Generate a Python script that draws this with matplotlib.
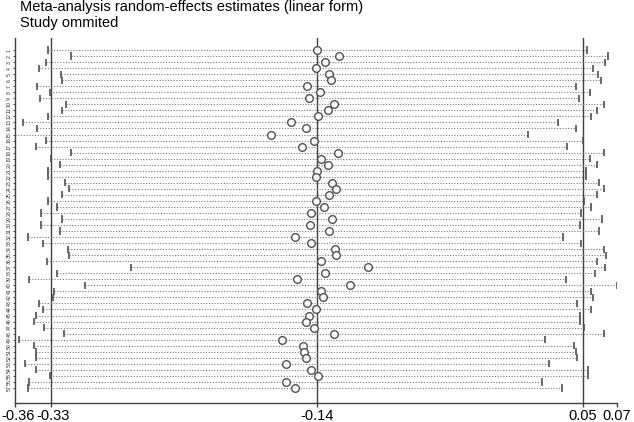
import matplotlib.pyplot as plt
import matplotlib.transforms as mtransforms
import numpy as np

# Study omitted: 1..57
studies = np.arange(1, 58)

estimate = [
    -0.141, -0.125, -0.135, -0.142, -0.132, -0.131, -0.148, -0.139, -0.147, -0.129,
    -0.133, -0.140, -0.160, -0.149, -0.174, -0.143, -0.152, -0.126, -0.138, -0.133,
    -0.141, -0.142, -0.130, -0.127, -0.132, -0.142, -0.136, -0.145, -0.130, -0.146,
    -0.132, -0.157, -0.145, -0.128, -0.127, -0.138, -0.104, -0.135, -0.155, -0.117,
    -0.138, -0.137, -0.148, -0.142, -0.147, -0.149, -0.143, -0.129, -0.166, -0.151,
    -0.150, -0.149, -0.163, -0.145, -0.140, -0.163, -0.157,
]
lower = [
    -0.334, -0.318, -0.336, -0.341, -0.325, -0.324, -0.342, -0.333, -0.340, -0.321,
    -0.324, -0.334, -0.352, -0.342, -0.358, -0.336, -0.343, -0.318, -0.332, -0.326,
    -0.334, -0.334, -0.322, -0.319, -0.324, -0.334, -0.328, -0.339, -0.324, -0.339,
    -0.326, -0.349, -0.338, -0.320, -0.319, -0.335, -0.275, -0.328, -0.348, -0.308,
    -0.330, -0.331, -0.341, -0.338, -0.343, -0.344, -0.337, -0.323, -0.355, -0.344,
    -0.343, -0.343, -0.351, -0.343, -0.333, -0.348, -0.349,
]
upper = [
    0.053, 0.068, 0.066, 0.057, 0.061, 0.063, 0.045, 0.055, 0.047, 0.065,
    0.060, 0.056, 0.032, 0.045, 0.011, 0.050, 0.039, 0.065, 0.055, 0.060,
    0.052, 0.052, 0.062, 0.065, 0.060, 0.051, 0.056, 0.049, 0.064, 0.048,
    0.062, 0.036, 0.049, 0.065, 0.067, 0.060, 0.066, 0.059, 0.038, 0.0746,
    0.056, 0.057, 0.046, 0.056, 0.048, 0.048, 0.051, 0.065, 0.023, 0.044,
    0.045, 0.046, 0.026, 0.054, 0.054, 0.021, 0.035,
]

# overall random-effects estimate and its CI
overall_est = -0.141
overall_lo = -0.332
overall_hi = 0.050

plt.rcParams["font.family"] = ["Liberation Sans", "DejaVu Sans"]

fig = plt.figure(figsize=(6.34, 4.22), dpi=100)
ax = fig.add_axes([15 / 634, 1 - 403 / 422, (617 - 15) / 634, (403 - 38) / 422])

gray = "#505050"
ax.hlines(studies, lower, upper, colors="#7a7a7a", linestyles=(0, (1, 1.5)), lw=0.8)
ax.vlines(lower, studies - 0.6, studies + 0.6, colors=gray, lw=1.2)
ax.vlines(upper, studies - 0.6, studies + 0.6, colors=gray, lw=1.2)
for v in (overall_lo, overall_est, overall_hi):
    ax.axvline(v, color="#404040", lw=1.0, zorder=1)
ax.plot(estimate, studies, "o", mfc="white", mec=gray, ms=5.5, mew=1.0, zorder=3)

xmin, xmax = min(lower), max(upper)
ax.set_xlim(xmin, xmax)
ax.set_ylim(59.5, -1)

xt = [xmin, overall_lo, overall_est, overall_hi, xmax]
ax.set_xticks(xt)
ax.set_xticklabels([f"{v:.2f}" for v in xt], fontsize=10.5)
ax.tick_params(axis="x", length=3, width=1.0, color="#404040", pad=1)
# nudge the two crowded left labels apart, as in the original
for lab, dx in zip(ax.get_xticklabels()[:2], (3, 1.5)):
    lab.set_transform(lab.get_transform()
                      + mtransforms.ScaledTranslation(dx / 100, 0, fig.dpi_scale_trans))

ax.set_yticks(studies)
ax.set_yticklabels([str(s) for s in studies], fontsize=3.8, rotation=90, va="center",
                   color="#333333")
ax.tick_params(axis="y", length=1.5, width=0.5, pad=1)

for side in ("top", "right"):
    ax.spines[side].set_visible(False)
for side in ("left", "bottom"):
    ax.spines[side].set_color("#404040")
    ax.spines[side].set_linewidth(1.0)

fig.text(20 / 634, 1 - 11 / 422, "Meta-analysis random-effects estimates (linear form)",
         fontsize=10.5, va="baseline", ha="left")
fig.text(20 / 634, 1 - 27 / 422, "Study ommited", fontsize=10.5, va="baseline", ha="left")

fig.savefig("out.png", dpi=100)
